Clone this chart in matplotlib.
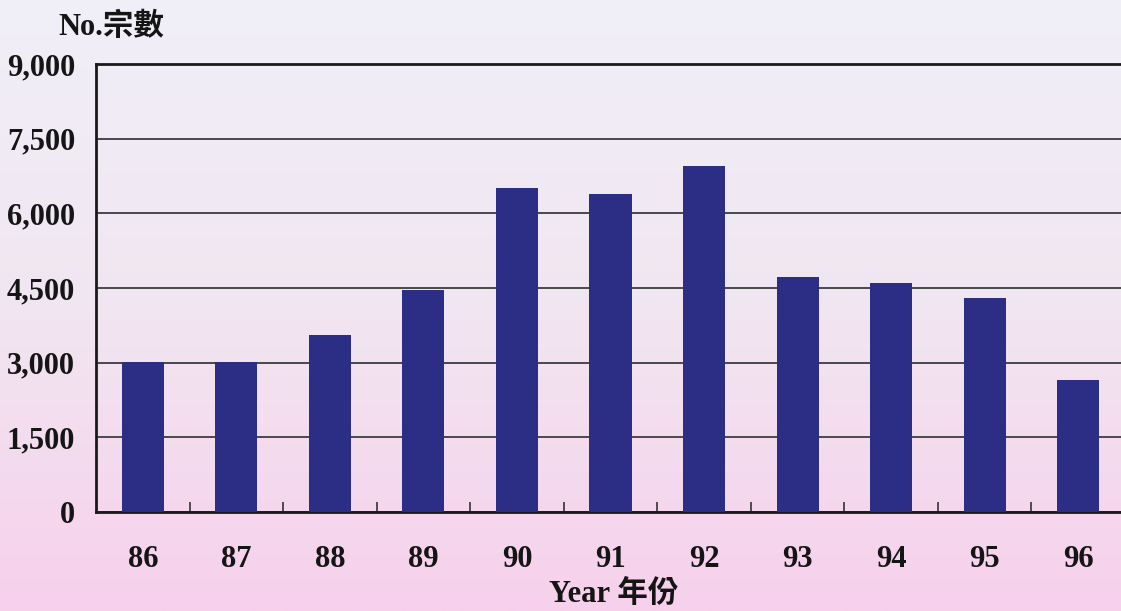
import matplotlib
matplotlib.use("Agg")
import matplotlib.pyplot as plt
import numpy as np
from matplotlib.colors import LinearSegmentedColormap

# data
years = ["86", "87", "88", "89", "90", "91", "92", "93", "94", "95", "96"]
cases = [3020, 3020, 3550, 4460, 6500, 6380, 6950, 4720, 4600, 4300, 2650]
y_ticks = [0, 1500, 3000, 4500, 6000, 7500, 9000]
y_tick_labels = ["0", "1,500", "3,000", "4,500", "6,000", "7,500", "9,000"]

FONT = ["Liberation Serif", "Noto Sans CJK TC", "DejaVu Sans"]
plt.rcParams["font.family"] = FONT
plt.rcParams["font.weight"] = "bold"

fig = plt.figure(figsize=(11.21, 6.11), dpi=100)

# background gradient: pale lavender at top, pink at bottom
bg = fig.add_axes([0, 0, 1, 1], zorder=0)
grad = LinearSegmentedColormap.from_list("bg", ["#f0eff7", "#f1e6f1", "#f7d0ec"])
bg.imshow(np.linspace(0, 1, 256).reshape(-1, 1), aspect="auto", cmap=grad,
          extent=[0, 1, 0, 1])
bg.axis("off")

ax = fig.add_axes([96 / 1121, 99 / 611, 1029 / 1121, 448 / 611], zorder=1)
ax.patch.set_alpha(0)

x = np.arange(len(years))
ax.bar(x, cases, width=0.45, color="#2c2d84", zorder=3)

ax.set_xlim(-0.5, len(years) - 0.5)
ax.set_ylim(0, 9000)
ax.set_yticks(y_ticks)
ax.set_yticklabels(y_tick_labels)
ax.yaxis.grid(True, color="#3c3c3c", linewidth=1.3, zorder=1)
ax.set_axisbelow(True)

ax.set_xticks(x)
ax.set_xticklabels(years)
ax.set_xticks(x[:-1] + 0.5, minor=True)
ax.tick_params(axis="x", which="major", length=0, pad=24, labelsize=22)
ax.tick_params(axis="x", which="minor", direction="in", length=7,
               width=1.2, color="#333333")
ax.tick_params(axis="y", length=0, pad=15, labelsize=22)

for lab in ax.get_xticklabels() + ax.get_yticklabels():
    lab.set_fontweight("bold")
    lab.set_color("#151515")

for side in ["left", "bottom", "top"]:
    ax.spines[side].set_linewidth(2)
    ax.spines[side].set_color("#1a1a1a")
ax.spines["right"].set_visible(False)

fig.text(58 / 1121, 1 - 27 / 611, "No.宗數", fontsize=22, fontweight="bold",
         ha="left", va="center", color="#151515")
fig.text(614 / 1121, 1 - 594 / 611, "Year 年份", fontsize=22, fontweight="bold",
         ha="center", va="center", color="#151515")

fig.savefig("out.png", dpi=100)
